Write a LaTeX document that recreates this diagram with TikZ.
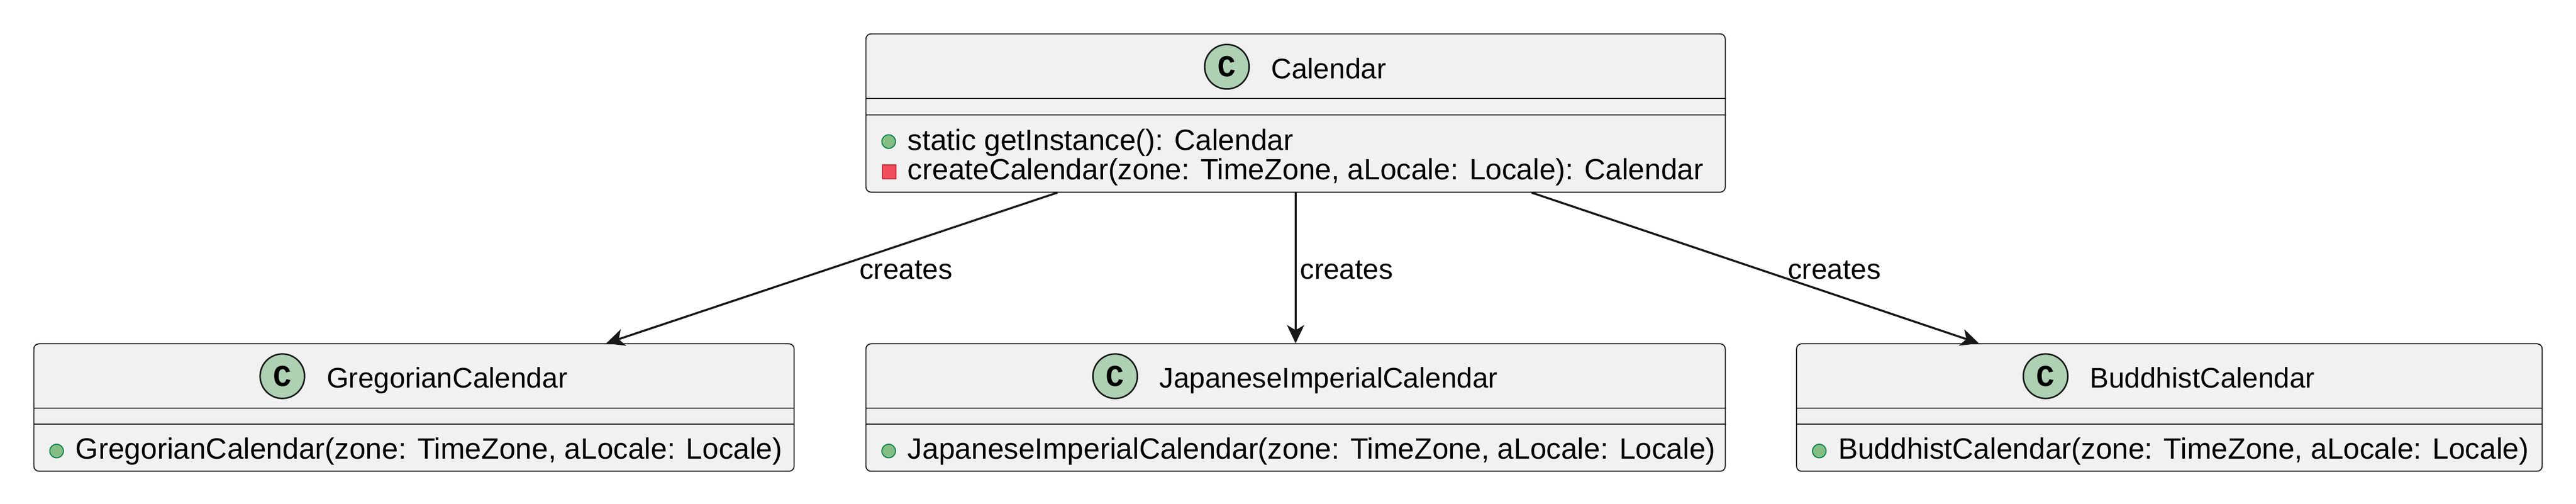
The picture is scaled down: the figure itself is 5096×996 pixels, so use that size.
\documentclass[tikz,border=0pt]{standalone}
\usepackage{fontspec}
\setmainfont{Liberation Sans}
\newfontfamily\iconfont{Liberation Mono}
\usetikzlibrary{arrows.meta,positioning}
\definecolor{boxfill}{HTML}{F1F1F1}
\definecolor{boxline}{HTML}{181818}
\definecolor{classicon}{HTML}{ADD1B2}
\definecolor{pubfill}{HTML}{84BE84}
\definecolor{publine}{HTML}{038048}
\definecolor{privfill}{HTML}{F24D5C}
\definecolor{privline}{HTML}{C82930}

\begin{document}
\begin{tikzpicture}[x=0.25pt,y=-0.25pt]
  \tikzset{every node/.style={font=\fontsize{14}{16}\selectfont}}
  \tikzset{classbox/.style={draw=boxline,fill=boxfill,line width=0.5pt,rounded corners=2.5pt,inner sep=0pt}}
  \tikzset{sepline/.style={draw=boxline,line width=0.5pt}}
  \tikzset{cname/.style={inner sep=0pt,anchor=base}}
  \tikzset{cicon/.style={circle,draw=boxline,fill=classicon,line width=0.75pt,minimum size=22pt,inner sep=0pt,font=\iconfont\bfseries\fontsize{15}{15}\selectfont}}
  \tikzset{member/.style={inner sep=0pt,anchor=base west,font=\fontsize{14.5}{16}\selectfont}}
  \tikzset{pubicon/.style={circle,draw=publine,fill=pubfill,line width=0.5pt,minimum size=6.75pt,inner sep=0pt}}
  \tikzset{privicon/.style={rectangle,draw=privline,fill=privfill,line width=0.5pt,minimum size=6.75pt,inner sep=0pt}}
  \tikzset{creates/.style={draw=boxline,line width=1pt,-{Stealth[length=9pt,width=8.5pt,inset=2.5pt]}}}
  \tikzset{edgelabel/.style={inner sep=0pt,anchor=base west,pos=0.573}}

  \useasboundingbox (0,0) rectangle (5096,996);

  % class boxes
  \node[classbox,minimum width=425pt,minimum height=78.25pt] (cal) at (2563,223.5) {};
  \node[classbox,minimum width=376pt,minimum height=63pt] (greg) at (819,806) {};
  \node[classbox,minimum width=425pt,minimum height=63pt] (jap) at (2563,806) {};
  \node[classbox,minimum width=368.75pt,minimum height=63pt] (budd) at (4291.5,806) {};

  % compartment lines
  \draw[sepline] ([yshift=-32.25pt]cal.north west) -- ([yshift=-32.25pt]cal.north east);
  \draw[sepline] ([yshift=-40.25pt]cal.north west) -- ([yshift=-40.25pt]cal.north east);
  \draw[sepline] ([yshift=-32pt]greg.north west) -- ([yshift=-32pt]greg.north east);
  \draw[sepline] ([yshift=-40pt]greg.north west) -- ([yshift=-40pt]greg.north east);
  \draw[sepline] ([yshift=-32pt]jap.north west) -- ([yshift=-32pt]jap.north east);
  \draw[sepline] ([yshift=-40pt]jap.north west) -- ([yshift=-40pt]jap.north east);
  \draw[sepline] ([yshift=-32pt]budd.north west) -- ([yshift=-32pt]budd.north east);
  \draw[sepline] ([yshift=-40pt]budd.north west) -- ([yshift=-40pt]budd.north east);

  % headers
  \node[cname] (calN) at (2628.5,155) {Calendar};
  \node[cicon] (calC) at ([shift={(-87,-23)}]calN.base west) {C};
  \node[cname] (gregN) at (884.5,767) {GregorianCalendar};
  \node[cicon] (gregC) at ([shift={(-87,-23)}]gregN.base west) {C};
  \node[cname] (japN) at (2628.5,767) {JapaneseImperialCalendar};
  \node[cicon] (japC) at ([shift={(-87,-23)}]japN.base west) {C};
  \node[cname] (buddN) at (4357,767) {BuddhistCalendar};
  \node[cicon] (buddC) at ([shift={(-87,-23)}]buddN.base west) {C};

  % members
  \node[member] (calM1) at (1795,297) {static getInstance(): Calendar};
  \node[pubicon] at ([shift={(-37,-17)}]calM1.base west) {};
  \node[member] (calM2) at (1795,355) {createCalendar(zone: TimeZone, aLocale: Locale): Calendar};
  \node[privicon] at ([shift={(-36,-15)}]calM2.base west) {};
  \node[member] (gregM) at (149,908) {GregorianCalendar(zone: TimeZone, aLocale: Locale)};
  \node[pubicon] at ([shift={(-37,-16)}]gregM.base west) {};
  \node[member] (japM) at (1795,908) {JapaneseImperialCalendar(zone: TimeZone, aLocale: Locale)};
  \node[pubicon] at ([shift={(-37,-16)}]japM.base west) {};
  \node[member] (buddM) at (3636,908) {BuddhistCalendar(zone: TimeZone, aLocale: Locale)};
  \node[pubicon] at ([shift={(-37,-16)}]buddM.base west) {};

  % factory arrows
  \draw[creates] (cal) -- node[edgelabel,xshift=29.5pt] {creates} (greg);
  \draw[creates] (cal) -- node[edgelabel,xshift=1.75pt] {creates} (jap);
  \draw[creates] (cal) -- node[edgelabel,xshift=-0.5pt] {creates} (budd);
\end{tikzpicture}
\end{document}
